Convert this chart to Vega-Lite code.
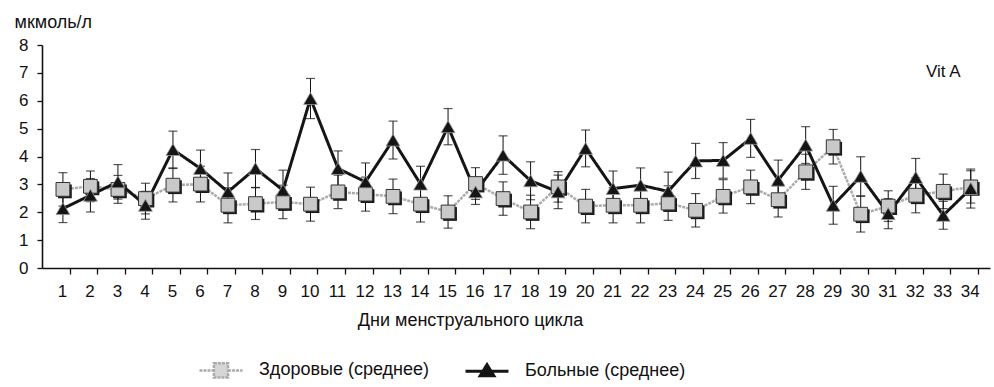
{
  "$schema": "https://vega.github.io/schema/vega-lite/v6.json",
  "width": 948,
  "height": 223,
  "autosize": {"type": "none"},
  "padding": {"left": 42, "top": 45, "right": 4, "bottom": 119},
  "background": "white",
  "config": {
    "view": {"stroke": null},
    "font": "Liberation Sans",
    "axis": {
      "domainColor": "#111", "domainWidth": 1.6, "tickColor": "#111", "tickWidth": 1.3,
      "labelFont": "Liberation Sans", "labelColor": "#111", "grid": false
    },
    "axisY": {
      "tickSize": 5, "labelFontSize": 17, "labelPadding": 9, "labelOverlap": false,
      "titleAngle": 0, "titleFont": "Liberation Sans", "titleFontSize": 18,
      "titleFontWeight": "normal", "titleColor": "#111", "titleAlign": "left",
      "titleBaseline": "alphabetic", "titleX": -28, "titleY": -18
    }
  },
  "data": {
    "values": [
      {"day": 1, "g": "Здоровые (среднее)", "m": 2.82, "lo": 2.22, "hi": 3.42},
      {"day": 2, "g": "Здоровые (среднее)", "m": 2.93, "lo": 2.38, "hi": 3.48},
      {"day": 3, "g": "Здоровые (среднее)", "m": 2.82, "lo": 2.32, "hi": 3.32},
      {"day": 4, "g": "Здоровые (среднее)", "m": 2.49, "lo": 1.94, "hi": 3.04},
      {"day": 5, "g": "Здоровые (среднее)", "m": 2.97, "lo": 2.37, "hi": 3.57},
      {"day": 6, "g": "Здоровые (среднее)", "m": 3.01, "lo": 2.37, "hi": 3.65},
      {"day": 7, "g": "Здоровые (среднее)", "m": 2.25, "lo": 1.62, "hi": 2.88},
      {"day": 8, "g": "Здоровые (среднее)", "m": 2.31, "lo": 1.74, "hi": 2.88},
      {"day": 9, "g": "Здоровые (среднее)", "m": 2.37, "lo": 1.77, "hi": 2.97},
      {"day": 10, "g": "Здоровые (среднее)", "m": 2.29, "lo": 1.68, "hi": 2.90},
      {"day": 11, "g": "Здоровые (среднее)", "m": 2.73, "lo": 2.13, "hi": 3.33},
      {"day": 12, "g": "Здоровые (среднее)", "m": 2.65, "lo": 2.04, "hi": 3.26},
      {"day": 13, "g": "Здоровые (среднее)", "m": 2.57, "lo": 1.95, "hi": 3.19},
      {"day": 14, "g": "Здоровые (среднее)", "m": 2.29, "lo": 1.65, "hi": 2.93},
      {"day": 15, "g": "Здоровые (среднее)", "m": 2.01, "lo": 1.43, "hi": 2.59},
      {"day": 16, "g": "Здоровые (среднее)", "m": 3.03, "lo": 2.46, "hi": 3.60},
      {"day": 17, "g": "Здоровые (среднее)", "m": 2.49, "lo": 1.89, "hi": 3.09},
      {"day": 18, "g": "Здоровые (среднее)", "m": 2.01, "lo": 1.41, "hi": 2.61},
      {"day": 19, "g": "Здоровые (среднее)", "m": 2.91, "lo": 2.36, "hi": 3.46},
      {"day": 20, "g": "Здоровые (среднее)", "m": 2.22, "lo": 1.62, "hi": 2.82},
      {"day": 21, "g": "Здоровые (среднее)", "m": 2.25, "lo": 1.62, "hi": 2.88},
      {"day": 22, "g": "Здоровые (среднее)", "m": 2.25, "lo": 1.62, "hi": 2.88},
      {"day": 23, "g": "Здоровые (среднее)", "m": 2.33, "lo": 1.71, "hi": 2.95},
      {"day": 24, "g": "Здоровые (среднее)", "m": 2.07, "lo": 1.47, "hi": 2.67},
      {"day": 25, "g": "Здоровые (среднее)", "m": 2.57, "lo": 1.97, "hi": 3.17},
      {"day": 26, "g": "Здоровые (среднее)", "m": 2.91, "lo": 2.31, "hi": 3.51},
      {"day": 27, "g": "Здоровые (среднее)", "m": 2.45, "lo": 1.83, "hi": 3.07},
      {"day": 28, "g": "Здоровые (среднее)", "m": 3.45, "lo": 2.82, "hi": 4.08},
      {"day": 29, "g": "Здоровые (среднее)", "m": 4.35, "lo": 3.73, "hi": 4.97},
      {"day": 30, "g": "Здоровые (среднее)", "m": 1.93, "lo": 1.29, "hi": 2.57},
      {"day": 31, "g": "Здоровые (среднее)", "m": 2.22, "lo": 1.67, "hi": 2.77},
      {"day": 32, "g": "Здоровые (среднее)", "m": 2.61, "lo": 1.98, "hi": 3.24},
      {"day": 33, "g": "Здоровые (среднее)", "m": 2.75, "lo": 2.13, "hi": 3.37},
      {"day": 34, "g": "Здоровые (среднее)", "m": 2.91, "lo": 2.33, "hi": 3.49},
      {"day": 1, "g": "Больные (среднее)", "m": 2.13, "lo": 1.63, "hi": 2.63},
      {"day": 2, "g": "Больные (среднее)", "m": 2.61, "lo": 2.01, "hi": 3.21},
      {"day": 3, "g": "Больные (среднее)", "m": 3.09, "lo": 2.47, "hi": 3.71},
      {"day": 4, "g": "Больные (среднее)", "m": 2.25, "lo": 1.75, "hi": 2.75},
      {"day": 5, "g": "Больные (среднее)", "m": 4.25, "lo": 3.59, "hi": 4.91},
      {"day": 6, "g": "Больные (среднее)", "m": 3.57, "lo": 2.91, "hi": 4.23},
      {"day": 7, "g": "Больные (среднее)", "m": 2.73, "lo": 2.05, "hi": 3.41},
      {"day": 8, "g": "Больные (среднее)", "m": 3.57, "lo": 2.89, "hi": 4.25},
      {"day": 9, "g": "Больные (среднее)", "m": 2.79, "lo": 2.07, "hi": 3.51},
      {"day": 10, "g": "Больные (среднее)", "m": 6.08, "lo": 5.36, "hi": 6.80},
      {"day": 11, "g": "Больные (среднее)", "m": 3.57, "lo": 2.94, "hi": 4.20},
      {"day": 12, "g": "Больные (среднее)", "m": 3.09, "lo": 2.41, "hi": 3.77},
      {"day": 13, "g": "Больные (среднее)", "m": 4.59, "lo": 3.91, "hi": 5.27},
      {"day": 14, "g": "Больные (среднее)", "m": 3.01, "lo": 2.37, "hi": 3.65},
      {"day": 15, "g": "Больные (среднее)", "m": 5.07, "lo": 4.42, "hi": 5.72},
      {"day": 16, "g": "Больные (среднее)", "m": 2.73, "lo": 2.28, "hi": 3.18},
      {"day": 17, "g": "Больные (среднее)", "m": 4.05, "lo": 3.36, "hi": 4.74},
      {"day": 18, "g": "Больные (среднее)", "m": 3.13, "lo": 2.45, "hi": 3.81},
      {"day": 19, "g": "Больные (среднее)", "m": 2.73, "lo": 2.13, "hi": 3.33},
      {"day": 20, "g": "Больные (среднее)", "m": 4.29, "lo": 3.63, "hi": 4.95},
      {"day": 21, "g": "Больные (среднее)", "m": 2.85, "lo": 2.22, "hi": 3.48},
      {"day": 22, "g": "Больные (среднее)", "m": 2.97, "lo": 2.35, "hi": 3.59},
      {"day": 23, "g": "Больные (среднее)", "m": 2.75, "lo": 2.06, "hi": 3.44},
      {"day": 24, "g": "Больные (среднее)", "m": 3.84, "lo": 3.21, "hi": 4.47},
      {"day": 25, "g": "Больные (среднее)", "m": 3.86, "lo": 3.22, "hi": 4.50},
      {"day": 26, "g": "Больные (среднее)", "m": 4.65, "lo": 3.97, "hi": 5.33},
      {"day": 27, "g": "Больные (среднее)", "m": 3.15, "lo": 2.43, "hi": 3.87},
      {"day": 28, "g": "Больные (среднее)", "m": 4.41, "lo": 3.75, "hi": 5.07},
      {"day": 29, "g": "Больные (среднее)", "m": 2.25, "lo": 1.57, "hi": 2.93},
      {"day": 30, "g": "Больные (среднее)", "m": 3.29, "lo": 2.59, "hi": 3.99},
      {"day": 31, "g": "Больные (среднее)", "m": 1.95, "lo": 1.41, "hi": 2.49},
      {"day": 32, "g": "Больные (среднее)", "m": 3.25, "lo": 2.57, "hi": 3.93},
      {"day": 33, "g": "Больные (среднее)", "m": 1.89, "lo": 1.39, "hi": 2.39},
      {"day": 34, "g": "Больные (среднее)", "m": 2.85, "lo": 2.15, "hi": 3.55}
    ]
  },
  "encoding": {
    "x": {
      "field": "day", "type": "quantitative",
      "scale": {"domain": [0.24, 34.7], "nice": false, "zero": false},
      "axis": {
        "values": [1,2,3,4,5,6,7,8,9,10,11,12,13,14,15,16,17,18,19,20,21,22,23,24,25,26,27,28,29,30,31,32,33,34],
        "tickSize": 6, "tickOffset": 7, "labelOffset": -8, "labelFontSize": 17, "labelPadding": 9, "labelOverlap": false,
        "title": "Дни менструального цикла", "titleFont": "Liberation Sans", "titleFontSize": 18,
        "titleFontWeight": "normal", "titleColor": "#111", "titleX": 428, "titleY": 52,
        "titleBaseline": "middle", "titleAnchor": "middle", "titleAlign": "center"
      }
    }
  },
  "layer": [
    {
      "mark": {"type": "line", "strokeJoin": "miter"},
      "encoding": {
        "y": {
          "field": "m", "type": "quantitative",
          "scale": {"domain": [0, 8], "nice": false},
          "title": "мкмоль/л",
          "axis": {"tickCount": 8, "labelOverlap": false}
        },
        "color": {
          "field": "g", "type": "nominal",
          "scale": {"domain": ["Здоровые (среднее)", "Больные (среднее)"], "range": ["#ababab", "#151515"]},
          "legend": {
            "orient": "none", "legendX": 156, "legendY": 302, "direction": "horizontal",
            "title": null, "padding": 0, "labelFont": "Liberation Sans", "labelFontSize": 18,
            "labelLimit": 400,
            "labelColor": "#111", "labelOffset": 15, "columnPadding": 30, "symbolSize": 1849,
            "symbolStrokeWidth": 2.5,
            "encode": {
              "symbols": {
                "update": {
                  "shape": {"signal": "datum.value === 'Здоровые (среднее)' ? 'M-1,0H-0.33M0.33,0H1M-0.33,-0.33H0.33V0.33H-0.33Z' : 'M-1,0H1M0,-0.3L0.32,0.22L-0.32,0.22Z'"},
                  "fill": {"signal": "datum.value === 'Здоровые (среднее)' ? '#d6d6d6' : '#111'"},
                  "stroke": {"signal": "datum.value === 'Здоровые (среднее)' ? '#888' : '#111'"},
                  "strokeWidth": {"value": 2}
                }
              }
            }
          }
        },
        "strokeWidth": {
          "field": "g", "type": "nominal",
          "scale": {"domain": ["Здоровые (среднее)", "Больные (среднее)"], "range": [2.5, 3]},
          "legend": null
        },
        "strokeDash": {
          "field": "g", "type": "nominal",
          "scale": {"domain": ["Здоровые (среднее)", "Больные (среднее)"], "range": [[3, 1], [1, 0]]},
          "legend": null
        }
      }
    },
    {
      "mark": {"type": "rule", "color": "#111", "strokeWidth": 1},
      "encoding": {
        "y": {"field": "lo", "type": "quantitative", "title": "мкмоль/л", "axis": {"tickCount": 8, "labelOverlap": false}},
        "y2": {"field": "hi"}
      }
    },
    {
      "mark": {"type": "tick", "orient": "horizontal", "color": "#111", "thickness": 1.2, "size": 9},
      "encoding": {"y": {"field": "hi", "type": "quantitative", "title": "мкмоль/л", "axis": {"tickCount": 8, "labelOverlap": false}}}
    },
    {
      "mark": {"type": "tick", "orient": "horizontal", "color": "#111", "thickness": 1.2, "size": 9},
      "encoding": {"y": {"field": "lo", "type": "quantitative", "title": "мкмоль/л", "axis": {"tickCount": 8, "labelOverlap": false}}}
    },
    {
      "transform": [{"filter": "datum.g === 'Здоровые (среднее)'"}],
      "mark": {"type": "point", "shape": "square", "size": 190, "filled": true, "color": "#1a1a1a", "opacity": 1, "xOffset": 2, "yOffset": 2},
      "encoding": {"y": {"field": "m", "type": "quantitative", "title": "мкмоль/л", "axis": {"tickCount": 8, "labelOverlap": false}}}
    },
    {
      "transform": [{"filter": "datum.g === 'Здоровые (среднее)'"}],
      "mark": {"type": "point", "shape": "square", "size": 190, "filled": true, "fill": "#c9c9c9", "stroke": "#333", "strokeWidth": 1, "opacity": 1},
      "encoding": {"y": {"field": "m", "type": "quantitative", "title": "мкмоль/л", "axis": {"tickCount": 8, "labelOverlap": false}}}
    },
    {
      "transform": [{"filter": "datum.g === 'Больные (среднее)'"}],
      "mark": {"type": "point", "shape": "triangle-up", "size": 190, "filled": true, "fill": "#151515", "stroke": "#9a9a9a", "strokeWidth": 0.8, "opacity": 1},
      "encoding": {"y": {"field": "m", "type": "quantitative", "title": "мкмоль/л", "axis": {"tickCount": 8, "labelOverlap": false}}}
    },
    {
      "transform": [{"filter": "datum.day === 1 && datum.g === 'Больные (среднее)'"}],
      "mark": {"type": "text", "text": "Vit A", "font": "Liberation Sans", "fontSize": 17, "color": "#111", "align": "center", "baseline": "middle"},
      "encoding": {"x": {"datum": 33.0}, "y": {"datum": 7.03, "title": "мкмоль/л", "axis": {"tickCount": 8, "labelOverlap": false}}}
    }
  ]
}
